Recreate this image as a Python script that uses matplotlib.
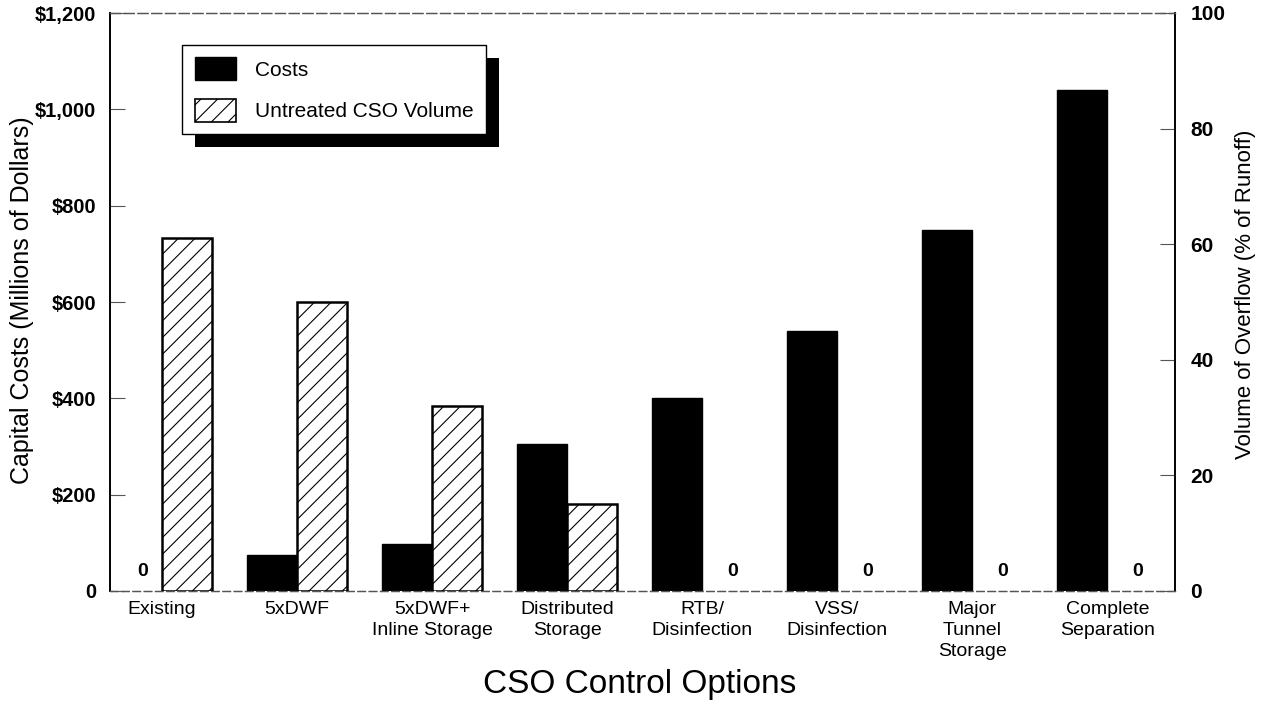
import matplotlib
matplotlib.use("Agg")
import matplotlib.pyplot as plt
import numpy as np
from matplotlib.patches import Patch, Rectangle

plt.rcParams['font.family'] = ['Liberation Sans', 'DejaVu Sans']
plt.rcParams['hatch.linewidth'] = 0.8
plt.rcParams['hatch.color'] = '#333333'

categories = ["Existing", "5xDWF", "5xDWF+\nInline Storage", "Distributed\nStorage",
              "RTB/\nDisinfection", "VSS/\nDisinfection", "Major\nTunnel\nStorage",
              "Complete\nSeparation"]
costs = [0, 75, 98, 305, 400, 540, 750, 1040]          # $ millions
volume = [61, 50, 32, 15, 0, 0, 0, 0]                   # % of runoff
cost_ticks = [0, 200, 400, 600, 800, 1000, 1200]
cost_ticklabels = ["0", "$200", "$400", "$600", "$800", "$1,000", "$1,200"]
vol_ticks = [0, 20, 40, 60, 80, 100]

W, H = 1266, 705
fig = plt.figure(figsize=(W / 100, H / 100), dpi=100)
ax = fig.add_axes([110 / W, 1 - 591 / H, (1175 - 110) / W, (591 - 13) / H])
ax2 = ax.twinx()

x = np.arange(len(categories))
bw = 0.37

ax.bar(x - bw / 2, costs, bw, color='black', edgecolor='black',
       linewidth=[1.0 if c > 0 else 0 for c in costs], zorder=3)
ax2.bar(x + bw / 2, volume, bw, color='white', edgecolor='black',
        linewidth=[1.8 if v > 0 else 0 for v in volume], hatch='//', zorder=3)

for xi, c in zip(x, costs):
    if c == 0:
        ax.annotate("0", (xi - bw / 2, 0), xytext=(4, 8), textcoords='offset points',
                    ha='center', va='bottom', fontsize=14, fontweight='bold')
for xi, v in zip(x, volume):
    if v == 0:
        ax2.annotate("0", (xi + bw / 2, 0), xytext=(4, 8), textcoords='offset points',
                     ha='center', va='bottom', fontsize=14, fontweight='bold')

ax.set_xlim(-0.385, 7.5)
ax.set_ylim(0, 1200)
ax2.set_ylim(0, 100)

ax.set_yticks(cost_ticks)
ax.set_yticklabels(cost_ticklabels, fontsize=14.5, fontweight='bold')
ax2.set_yticks(vol_ticks)
ax2.set_yticklabels([str(t) for t in vol_ticks], fontsize=15, fontweight='bold')
ax.tick_params(axis='y', direction='in', length=11, width=0.8, color='#555555', pad=10)
ax2.tick_params(axis='y', direction='in', length=11, width=0.8, color='#555555', pad=11)

ax.set_xticks(x)
ax.set_xticklabels(categories, fontsize=14, linespacing=1.3)
ax.tick_params(axis='x', length=0, pad=7)

for a in (ax, ax2):
    a.spines['left'].set_linewidth(1.2)
    a.spines['right'].set_linewidth(1.2)
    a.spines['top'].set_linestyle((0, (8, 3)))
    a.spines['top'].set_color('#555555')
    a.spines['top'].set_linewidth(0.9)
    a.spines['bottom'].set_linestyle((0, (6, 3)))
    a.spines['bottom'].set_color('#555555')
    a.spines['bottom'].set_linewidth(0.9)

fig.text(22 / W, 1 - 300 / H, "Capital Costs (Millions of Dollars)", rotation=90,
         ha='center', va='center', fontsize=18)
fig.text(1246 / W, 1 - 294 / H, "Volume of Overflow (% of Runoff)", rotation=90,
         ha='center', va='center', fontsize=16)
fig.text(640 / W, 1 - 684 / H, "CSO Control Options", ha='center', va='center', fontsize=24)

handles = [Patch(facecolor='black', edgecolor='black'),
           Patch(facecolor='white', edgecolor='black', hatch='//', linewidth=1.2)]
leg = fig.legend(handles, ["Costs", "Untreated CSO Volume"], loc='upper left',
                 bbox_to_anchor=(182 / W, 1 - 45 / H), bbox_transform=fig.transFigure,
                 fontsize=15, frameon=True, fancybox=False, framealpha=1,
                 edgecolor='black', handlelength=2.0, handleheight=1.3,
                 borderpad=0.6, labelspacing=0.9, handletextpad=0.9,
                 borderaxespad=0)
leg.get_frame().set_linewidth(1.0)
leg.set_zorder(10)

fig.canvas.draw()
bb = leg.get_window_extent()
off = 13
shadow = Rectangle((bb.x0 + off, bb.y0 - off), bb.width, bb.height,
                   transform=None, facecolor='black', edgecolor='none', zorder=9)
fig.add_artist(shadow)

fig.savefig("out.png", dpi=100)
